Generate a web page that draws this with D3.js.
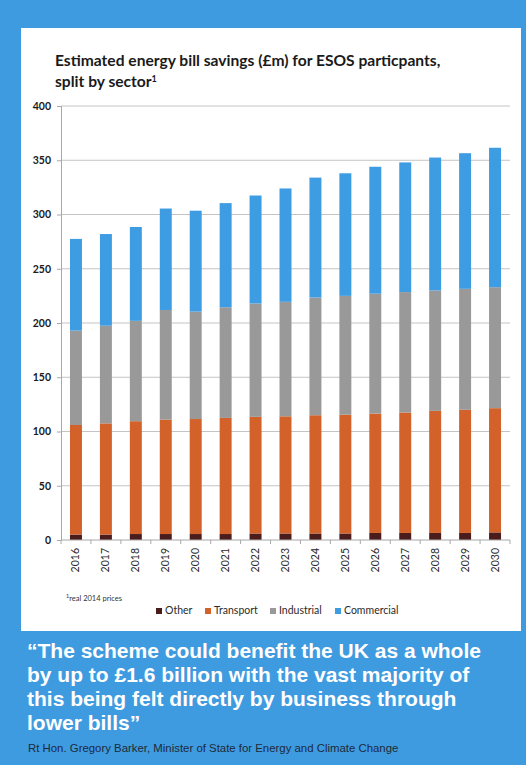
<!DOCTYPE html>
<html>
<head>
<meta charset="utf-8">
<script src="https://cdn.jsdelivr.net/npm/d3@7"></script>
<style>
  html, body { margin: 0; padding: 0; background: #3f9be0; }
  svg { display: block; }
</style>
</head>
<body>
<svg id="chart" width="526" height="765"></svg>
<script>
// Estimated energy bill savings (£m) for ESOS participants, split by sector
const years = ["2016","2017","2018","2019","2020","2021","2022","2023","2024","2025","2026","2027","2028","2029","2030"];
const sectors = ["Other", "Transport", "Industrial", "Commercial"];
const other      = [5, 5, 5.5, 5.5, 5.5, 5.5, 6, 6, 6, 6, 6.5, 6.5, 6.5, 6.5, 7];
const transport  = [101, 102.5, 104, 105.5, 106, 107, 107.5, 108, 109, 109.5, 110, 111, 112.5, 113.5, 114.5];
const industrial = [87, 90, 92.5, 101, 99, 102, 104.5, 105.5, 108.5, 109.5, 110.5, 111, 111, 111.5, 111.5];
const commercial = [84.5, 84.5, 86.5, 93.5, 93, 96, 99.5, 104.5, 110.5, 113, 117, 119.5, 122.5, 125, 128.5];
const yTicks = [0, 50, 100, 150, 200, 250, 300, 350, 400];
const colors = ["#4b1c1c", "#d2622a", "#999999", "#3e9ce3"];

const quoteLines = [
  "\u201CThe scheme could benefit the UK as a whole",
  "by up to \u00A31.6 billion with the vast majority of",
  "this being felt directly by business through",
  "lower bills\u201D"
];
const attribution = "Rt Hon. Gregory Barker, Minister of State for Energy and Climate Change";

const svg = d3.select("#chart");

// white chart panel
svg.append("rect").attr("x", 21).attr("y", 28).attr("width", 500).attr("height", 603).attr("fill", "#ffffff");

// title
const title = svg.append("text").attr("font-family", "Lato, 'Open Sans', sans-serif").attr("font-weight", "bold")
  .attr("font-size", 15.6).attr("fill", "#1a1a1a");
title.append("tspan").attr("x", 55).attr("y", 66).text("Estimated energy bill savings (\u00A3m) for ESOS particpants,");
title.append("tspan").attr("x", 55).attr("y", 87).text("split by sector");
title.append("tspan").attr("dy", -5).attr("font-size", 9).text("1");

const rows = years.map((y, i) => ({
  year: y, Other: other[i], Transport: transport[i], Industrial: industrial[i], Commercial: commercial[i]
}));
const stacked = d3.stack().keys(sectors)(rows);

const x = d3.scaleBand().domain(years).range([61, 510]).paddingInner(0.6).paddingOuter(0.3);
const y = d3.scaleLinear().domain([0, 400]).range([540, 106]);

// gridlines
svg.append("g").selectAll("line").data(yTicks.filter(d => d > 0)).join("line")
  .attr("x1", 61).attr("x2", 510)
  .attr("y1", d => y(d)).attr("y2", d => y(d))
  .attr("stroke", "#c4c4c4").attr("stroke-width", 1);

// y axis
const yAxis = svg.append("g").attr("transform", "translate(61,0)")
  .call(d3.axisLeft(y).tickValues(yTicks).tickSize(4).tickPadding(6));
yAxis.select(".domain").attr("stroke", "#a8a8a8");
yAxis.selectAll(".tick line").attr("stroke", "#a8a8a8");
yAxis.selectAll(".tick text").attr("font-family", "Lato, sans-serif").attr("font-weight", "bold")
  .attr("font-size", 10.5).attr("fill", "#1a1a1a");

// bars
svg.append("g").selectAll("g").data(stacked).join("g")
  .attr("fill", (d, i) => colors[i])
  .selectAll("rect").data(d => d).join("rect")
  .attr("x", d => x(d.data.year))
  .attr("width", x.bandwidth())
  .attr("y", d => y(d[1]))
  .attr("height", d => y(d[0]) - y(d[1]));

// x axis with ticks between categories
const xAxis = svg.append("g").attr("transform", "translate(0,540)");
xAxis.append("line").attr("x1", 61).attr("x2", 510).attr("y1", 0).attr("y2", 0).attr("stroke", "#a8a8a8");
const bounds = d3.range(years.length + 1).map(i => 61 + i * (449 / years.length));
xAxis.selectAll("line.tk").data(bounds).join("line").attr("class", "tk")
  .attr("x1", d => d).attr("x2", d => d).attr("y1", 0).attr("y2", 4).attr("stroke", "#a8a8a8");
xAxis.selectAll("text").data(years).join("text")
  .attr("transform", d => `translate(${x(d) + x.bandwidth() / 2 + 3.5},8) rotate(-90)`)
  .attr("text-anchor", "end")
  .attr("font-family", "Lato, sans-serif").attr("font-size", 10.5).attr("fill", "#2a2a2a")
  .text(d => d);

// footnote
const fn = svg.append("text").attr("x", 66).attr("y", 601).attr("font-family", "Lato, sans-serif")
  .attr("font-size", 7.5).attr("fill", "#333");
fn.append("tspan").attr("font-size", 5.5).attr("dy", -3).text("1");
fn.append("tspan").attr("dy", 3).text("real 2014 prices");

// legend
const legendX = [156, 205, 270, 335];
const lg = svg.append("g").selectAll("g").data(sectors).join("g")
  .attr("transform", (d, i) => `translate(${legendX[i]},614)`);
lg.append("rect").attr("x", 0).attr("y", -6).attr("width", 6).attr("height", 6).attr("fill", (d, i) => colors[i]);
lg.append("text").attr("x", 9).attr("y", 0).attr("font-family", "Lato, sans-serif").attr("font-size", 10.5)
  .attr("fill", "#2a2a2a").text(d => d);

// quote
svg.append("g").selectAll("text").data(quoteLines).join("text")
  .attr("x", 27).attr("y", (d, i) => 658 + i * 24)
  .attr("font-family", "'Liberation Sans', Arial, sans-serif").attr("font-weight", "bold")
  .attr("font-size", 21).attr("fill", "#ffffff").text(d => d);

svg.append("text").attr("x", 28).attr("y", 752)
  .attr("font-family", "'Liberation Sans', Arial, sans-serif").attr("font-size", 11.4)
  .attr("fill", "#1c2a3a").text(attribution);
</script>
</body>
</html>
